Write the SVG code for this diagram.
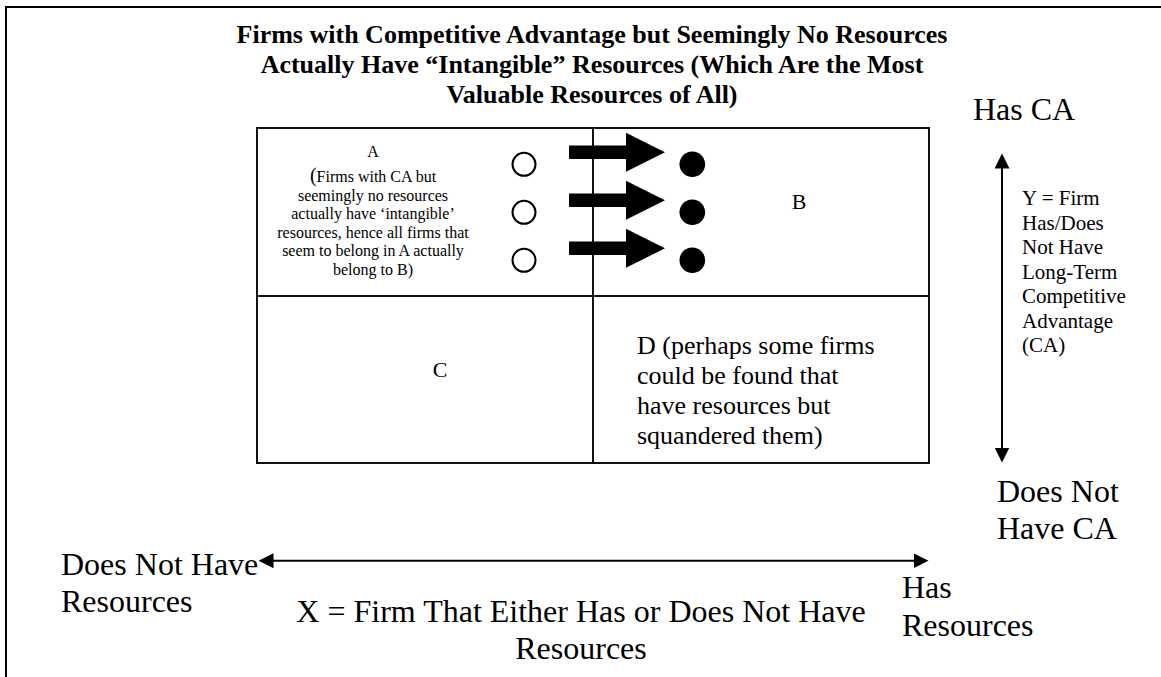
<svg xmlns="http://www.w3.org/2000/svg" width="1161" height="677" viewBox="0 0 1161 677">
<defs>
<style>
text { font-family: "Liberation Serif", "Times New Roman", serif; fill: #000; }
.title { font-weight: bold; font-size: 26px; text-anchor: middle; }
.big { font-size: 32px; }
.mid { text-anchor: middle; }
.q { font-size: 22px; text-anchor: middle; }
.d { font-size: 26px; }
.small { font-size: 16px; text-anchor: middle; }
.y { font-size: 21px; }
.frame { fill: none; stroke: #000; stroke-width: 2; }
.grid { fill: none; stroke: #111; stroke-width: 2; }
.axis { stroke: #000; stroke-width: 2; fill: none; }
.open { fill: #fff; stroke: #000; stroke-width: 2; }
.filled { fill: #000; }
</style>
<marker id="ah" markerUnits="userSpaceOnUse" viewBox="0 0 15 15" refX="0.5" refY="7.5" markerWidth="15" markerHeight="15" orient="auto-start-reverse">
<path d="M0,0 L15,7.5 L0,15 z" fill="#000"/>
</marker>
<path id="blk" d="M0,-6.7 H57 V-19.5 L96,0 L57,19.5 V6.7 H0 z" fill="#000"/>
</defs>

<path class="frame" d="M6,677 V7 H1161"/>

<g id="title">
<text class="title" x="592" y="43">Firms with Competitive Advantage but Seemingly No Resources</text>
<text class="title" x="592" y="73">Actually Have “Intangible” Resources (Which Are the Most</text>
<text class="title" x="592" y="103">Valuable Resources of All)</text>
</g>

<g id="grid">
<rect class="grid" x="257" y="128" width="672" height="335"/>
<line class="grid" x1="593" y1="128" x2="593" y2="463"/>
<line class="grid" x1="257" y1="296" x2="929" y2="296"/>
</g>

<g id="quadrant-a">
<text class="small" x="373" y="157">A</text>
<text class="small" x="373" y="182"><tspan font-size="20">(</tspan>Firms with CA but</text>
<text class="small" x="373" y="200.5">seemingly no resources</text>
<text class="small" x="373" y="219">actually have ‘intangible’</text>
<text class="small" x="373" y="237.5">resources, hence all firms that</text>
<text class="small" x="373" y="256">seem to belong in A actually</text>
<text class="small" x="373" y="274.5">belong to B)</text>
</g>

<g id="open-firms">
<circle class="open" cx="524" cy="164.3" r="11.5"/>
<circle class="open" cx="524" cy="212.3" r="11.5"/>
<circle class="open" cx="524" cy="260.3" r="11.5"/>
</g>

<g id="quadrant-b">
<text class="q" x="799" y="209">B</text>
</g>

<g id="filled-firms">
<circle class="filled" cx="692.3" cy="164.3" r="12.8"/>
<circle class="filled" cx="692.3" cy="212.3" r="12.8"/>
<circle class="filled" cx="692.3" cy="260.3" r="12.8"/>
</g>

<g id="quadrant-c">
<text class="q" x="440" y="377">C</text>
</g>

<g id="quadrant-d">
<text class="d" x="637" y="354">D (perhaps some firms</text>
<text class="d" x="637" y="384">could be found that</text>
<text class="d" x="637" y="414">have resources but</text>
<text class="d" x="637" y="444">squandered them)</text>
</g>

<g id="y-top-label">
<text class="big" x="973" y="120">Has CA</text>
</g>
<g id="y-axis-label">
<text class="y" x="1022" y="205">Y = Firm</text>
<text class="y" x="1022" y="229.5">Has/Does</text>
<text class="y" x="1022" y="254">Not Have</text>
<text class="y" x="1022" y="278.5">Long-Term</text>
<text class="y" x="1022" y="303">Competitive</text>
<text class="y" x="1022" y="327.5">Advantage</text>
<text class="y" x="1022" y="352">(CA)</text>
</g>
<g id="y-bottom-label">
<text class="big" x="997" y="502">Does Not</text>
<text class="big" x="997" y="539">Have CA</text>
</g>

<g id="x-left-label">
<text class="big" x="61" y="575">Does Not Have</text>
<text class="big" x="61" y="612">Resources</text>
</g>
<g id="x-right-label">
<text class="big" x="902" y="598">Has</text>
<text class="big" x="902" y="636">Resources</text>
</g>
<g id="x-axis-label">
<text class="big mid" x="581" y="622">X = Firm That Either Has or Does Not Have</text>
<text class="big mid" x="581" y="659">Resources</text>
</g>

<g id="connectors">
<use href="#blk" x="569" y="152.3"/>
<use href="#blk" x="569" y="200.3"/>
<use href="#blk" x="569" y="248.3"/>
<line class="axis" x1="273" y1="560.7" x2="914" y2="560.7" marker-start="url(#ah)" marker-end="url(#ah)"/>
<line class="axis" x1="1002" y1="168" x2="1002" y2="448" marker-start="url(#ah)" marker-end="url(#ah)"/>
</g>
</svg>
